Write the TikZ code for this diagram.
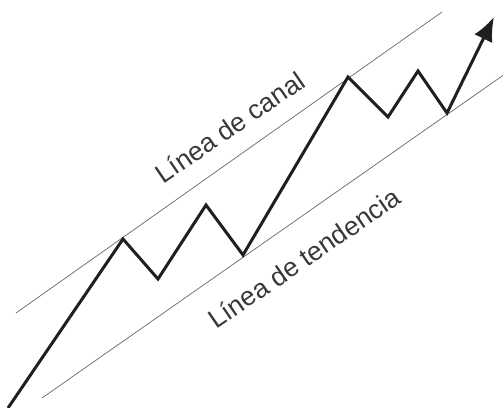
\documentclass[tikz,border=0pt]{standalone}
\usepackage{fontspec}
\setmainfont{Liberation Sans}
\usetikzlibrary{arrows.meta}

\begin{document}
\begin{tikzpicture}[
    x=1pt,y=-1pt,
    chanline/.style={draw=black!60,line width=0.7pt},
    price/.style={draw=black!88,line width=3pt,line join=miter,
        -{Latex[length=24pt,width=20pt]}},
    lbl/.style={text=black!78,font=\fontsize{26.5}{30}\selectfont,
        rotate=34.5,inner sep=0pt}
  ]
  \useasboundingbox (0,0) rectangle (503,407);
  % canal y tendencia
  \coordinate (c1) at (16,313);
  \coordinate (c2) at (442,12);
  \coordinate (t1) at (42,398);
  \coordinate (t2) at (505,74);
  \draw[chanline] (c1) -- (c2);
  \draw[chanline] (t1) -- (t2);
  \node[lbl] (canal) at (230,127) {Línea de canal};
  \node[lbl] (tend) at (304,258) {Línea de tendencia};
  % precio
  \coordinate (p0) at (8,408);
  \coordinate (p1) at (123,239);
  \coordinate (p2) at (158,279);
  \coordinate (p3) at (206,205);
  \coordinate (p4) at (243,255);
  \coordinate (p5) at (348,77);
  \coordinate (p6) at (388,117);
  \coordinate (p7) at (418,71);
  \coordinate (p8) at (447,113);
  \coordinate (p9) at (494,17);
  \draw[price] (p0) -- (p1) -- (p2) -- (p3) -- (p4) -- (p5) -- (p6)
    -- (p7) -- (p8) -- (p9);
\end{tikzpicture}
\end{document}
